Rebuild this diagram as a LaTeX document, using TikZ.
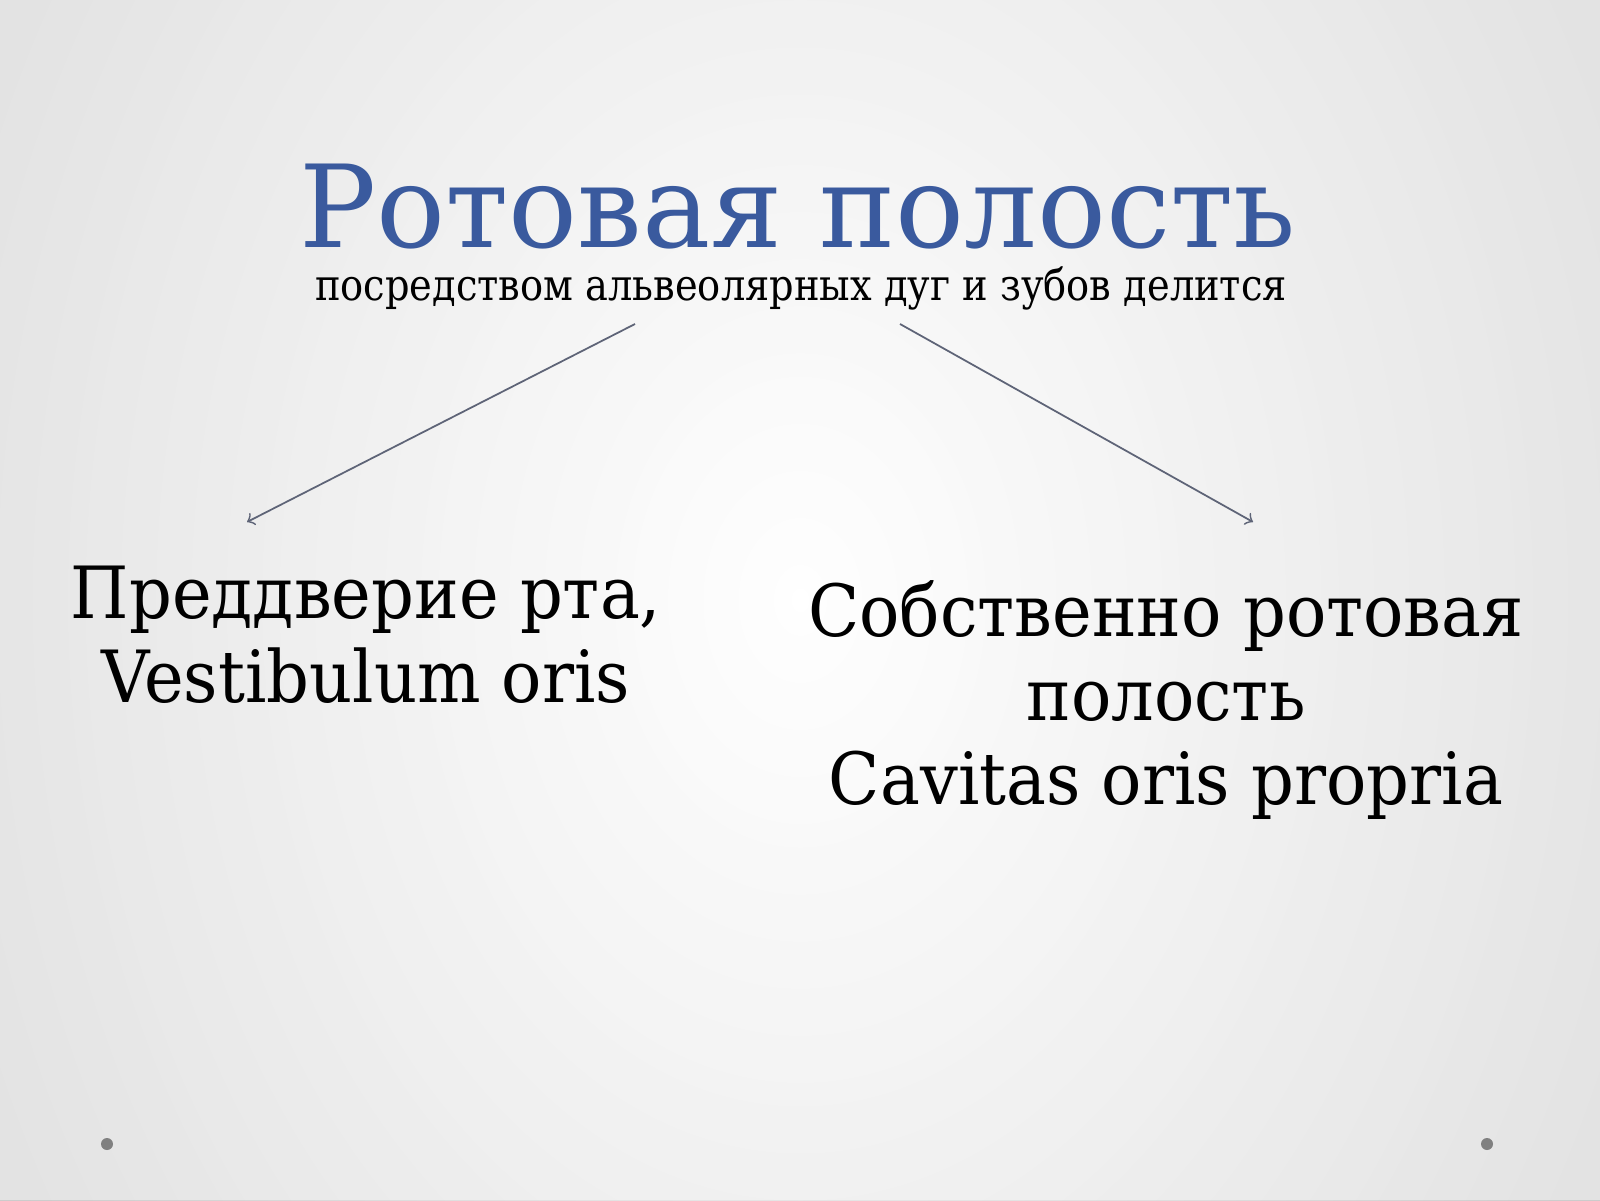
\documentclass[tikz,border=0pt]{standalone}
\usepackage{fontspec}
\setmainfont{DejaVu Serif}
\newfontfamily\subfont[FakeStretch=0.88]{DejaVu Serif}
\newfontfamily\partfont[FakeStretch=0.93]{DejaVu Serif}
\usetikzlibrary{arrows}
\usetikzlibrary{calc}
\definecolor{titleblue}{HTML}{3A5A9E}
\definecolor{arrowgray}{HTML}{5E6477}
\definecolor{dotgray}{HTML}{808080}

\begin{document}
\begin{tikzpicture}

  \useasboundingbox (0,0) rectangle (16,12);

  % Background
  \shade[inner color=white, outer color=black!20] (-1,-6) rectangle (17,18);
  \fill[white, opacity=0.45] (0,0) rectangle (16,12);

  % Heading
  \node[anchor=base, inner sep=1pt, text=titleblue, font=\fontsize{32.6pt}{36pt}\selectfont] (Title) at (7.98,9.52) {Ротовая полость};
  \node[anchor=base, inner sep=1pt, font=\subfont\fontsize{12.4pt}{15pt}\selectfont] (Sub) at (8.01,8.99) {посредством альвеолярных дуг и зубов делится};

  % Parts
  \node[anchor=base, align=center, font=\partfont\fontsize{20.5pt}{23.8pt}\selectfont] (Vest) at (3.66,4.98) {Преддверие рта,\\ Vestibulum oris};
  \node[anchor=base, align=center, font=\partfont\fontsize{20.5pt}{23.8pt}\selectfont] (Prop) at (11.66,3.96) {Собственно ротовая\\ полость\\ Cavitas oris propria};

  % Arrows
  \coordinate (A) at (6.35,8.76);
  \coordinate (B) at (9.00,8.76);
  \coordinate (A1) at (2.47,6.78);
  \coordinate (B1) at (12.53,6.78);
  \draw[->, >=to, arrowgray, line width=0.5pt] (A) -- (A1);
  \draw[->, >=to, arrowgray, line width=0.5pt] (B) -- (B1);

  % Corner dots
  \fill[dotgray] (1.07,0.56) circle (0.06);
  \fill[dotgray] (14.87,0.56) circle (0.06);

\end{tikzpicture}
\end{document}
